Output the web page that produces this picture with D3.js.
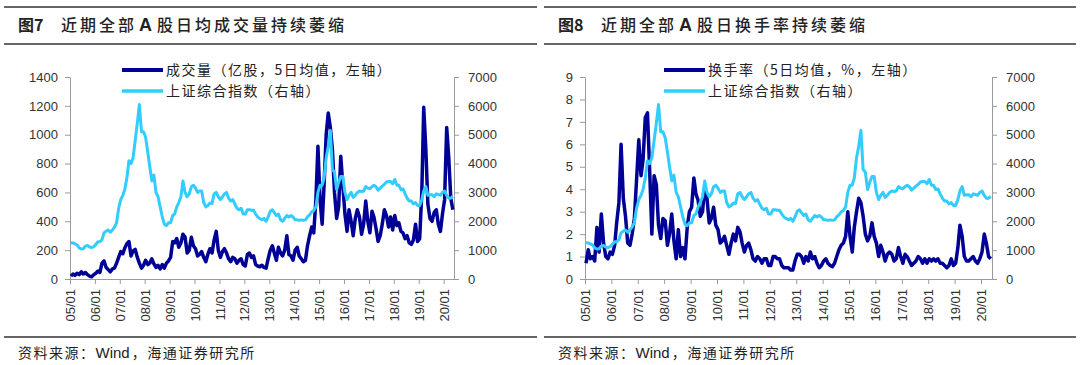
<!DOCTYPE html>
<html>
<head>
<meta charset="utf-8">
<script src="https://cdn.jsdelivr.net/npm/d3@7"></script>
<style>
  body { margin: 0; background: #fff; }
  svg text { font-family: "Liberation Sans", Arial, "Noto Sans CJK SC", sans-serif; }
  .cjk { font-family: "Noto Sans CJK SC", sans-serif; }
</style>
</head>
<body>
<svg id="chart" width="1080" height="365"></svg>
<script>
// monthly values, Jan 2005 .. May 2020
const firstYear = 2005;
const tickYears = d3.range(2005, 2021);

// 成交量（亿股，5日均值）
const volume = [
  20, 35, 25, 40, 30, 50, 35, 45, 30, 20, 15, 30,
  40, 55, 45, 110, 125, 80, 65, 50, 70, 75, 110, 150,
  190, 175, 215, 245, 260, 160, 195, 205, 150, 110, 75, 95,
  130, 100, 110, 140, 105, 80, 95, 70, 100, 75, 110, 125,
  150, 260, 250, 280, 220, 250, 310, 290, 180, 200, 290, 230,
  210, 160, 170, 190, 150, 120, 170, 210, 180, 270, 330, 200,
  150, 190, 210, 180, 140, 120, 150, 140, 110, 130, 140, 100,
  90, 170, 180, 150, 160, 100, 90, 85, 95, 80, 75, 140,
  200, 230, 180, 130, 220, 180, 160, 200, 300, 170, 160, 130,
  200, 220, 160, 140, 120, 130, 230, 300, 360, 320, 550, 920,
  550, 380, 650, 1000, 1150, 1050, 900, 600, 420, 500, 850, 650,
  450, 330, 480, 400, 300, 420, 480, 430, 310, 380, 540, 400,
  320, 470, 430, 350, 260, 300, 380, 480, 440, 360, 430, 340,
  440, 370, 390, 330, 320, 280, 300, 250, 240, 270, 380, 260,
  280, 600, 1190, 900, 520, 420, 400, 460, 480, 380, 330, 450,
  550, 1050, 850, 560, 480
];

// 换手率（5日均值，%）
const turnover = [
  0.7, 1.3, 0.9, 1.0, 0.8, 2.3, 1.2, 2.9, 1.6, 1.0, 0.9, 1.2,
  1.1, 1.5, 2.5, 3.4, 6.0, 3.6, 2.8, 1.6, 1.5, 2.0, 2.7, 4.4,
  6.2, 4.6, 5.3, 7.2, 7.4, 4.8, 2.0, 4.6, 4.2, 2.4, 1.8, 2.7,
  2.6, 1.5, 2.0, 2.9, 1.7, 0.9, 2.2, 1.0, 1.4, 0.9, 2.3, 3.0,
  3.2, 4.5, 3.8, 3.5, 2.8, 3.0, 4.1, 3.6, 2.5, 2.7, 3.2, 2.4,
  2.2, 1.6, 1.7, 1.9, 1.5, 1.1, 1.6, 2.0, 1.7, 2.3, 2.1, 1.6,
  1.2, 1.5, 1.6, 1.3, 0.9, 0.8, 1.0, 0.9, 0.7, 0.9, 0.9, 0.6,
  0.6, 1.0, 1.0, 0.9, 0.9, 0.6, 0.5, 0.5, 0.5, 0.4, 0.4, 0.8,
  1.1, 1.1, 1.0, 0.7, 1.0, 0.8, 1.2, 0.9, 1.0, 0.7, 0.5, 0.6,
  0.8, 0.9, 0.7, 0.6, 0.55, 0.7, 1.0, 1.3, 1.5, 1.6, 1.9, 3.0,
  1.9, 1.2, 2.3, 3.0, 3.6, 3.4, 2.8, 2.0, 1.7, 1.9, 2.5, 1.9,
  1.6, 1.0, 1.5, 1.2, 0.8, 1.1, 1.2, 1.1, 0.8, 0.9, 1.4, 1.0,
  0.7, 1.1, 1.0, 0.8, 0.6, 0.7, 0.8, 1.0, 0.9, 0.7, 0.9, 0.7,
  0.9, 0.8, 0.9, 0.8, 0.9, 0.7, 0.7, 0.6, 0.5, 0.6, 0.9, 0.6,
  0.7, 1.4, 2.4, 1.9, 1.0, 0.8, 0.8, 0.9, 1.0, 0.8, 0.7, 0.9,
  1.2, 2.0, 1.6, 1.0, 0.9
];

// 上证综合指数
const sseIndex = [
  1260, 1250, 1220, 1180, 1080, 1040, 1050, 1140, 1160, 1110, 1090, 1120,
  1200, 1290, 1290, 1360, 1600, 1660, 1700, 1620, 1700, 1800, 1950, 2450,
  2750, 2900, 3100, 3500, 4100, 4000, 4200, 4800, 5400, 6050, 5100, 5100,
  4900, 4400, 3900, 3400, 3600, 3000, 2850, 2500, 2150, 1900, 1850, 1950,
  1950, 2200, 2250, 2500, 2650, 2850, 3400, 3000, 2850, 2950, 3200, 3250,
  3150, 3000, 3050, 3050, 2650, 2500, 2550, 2630, 2620, 2950, 3000, 2850,
  2750, 2850, 2950, 3000, 2800, 2700, 2750, 2600, 2450, 2400, 2450, 2250,
  2250, 2400, 2400, 2380, 2380, 2250, 2150, 2100, 2050, 2100, 2000, 2150,
  2350, 2400, 2300, 2200, 2250, 2050, 2000, 2100, 2200, 2150, 2200, 2150,
  2050, 2050, 2030, 2050, 2030, 2050, 2150, 2220, 2330, 2370, 2500, 3000,
  3250, 3250, 3500, 4200, 4600, 5150, 3800, 3700, 3100, 3350, 3550, 3550,
  3000, 2750, 2900, 3000, 2830, 2900, 3000, 3050, 3030, 3050, 3200, 3150,
  3130, 3200, 3250, 3200, 3080, 3150, 3220, 3280, 3360, 3380, 3380, 3300,
  3450, 3250, 3250, 3100, 3120, 2950, 2800, 2700, 2700, 2600, 2650, 2550,
  2550, 2750, 3050, 3200, 2900, 2920, 2920, 2850, 2950, 2930, 2900, 3000,
  3050, 2900, 2800, 2800, 2860
];

const navy = "#000096";
const sky = "#33ccff";
const axisColor = "#9a9a9a";

const svg = d3.select("#chart");
const months = volume.map((_, i) => new Date(firstYear, i, 15));

function drawPanel(cfg) {
  const g = svg.append("g");
  const top = 77, bottom = 279;

  // header / footer rules
  [7, 44, 337].forEach(y => {
    g.append("line")
      .attr("x1", cfg.ruleX0).attr("x2", cfg.ruleX1)
      .attr("y1", y).attr("y2", y)
      .attr("stroke", "#333").attr("stroke-width", 1.6);
  });

  g.append("text").attr("class", "cjk")
    .attr("x", cfg.ruleX0 + 14).attr("y", 31)
    .attr("font-size", 16).attr("font-weight", "bold").attr("fill", "#222")
    .text(cfg.figNo);
  const title = g.append("text").attr("class", "cjk")
    .attr("x", cfg.ruleX0 + 57).attr("y", 31)
    .attr("font-size", 16).attr("font-weight", 500).attr("fill", "#222")
    .attr("letter-spacing", 3);
  title.append("tspan").text(cfg.title[0]);
  title.append("tspan").attr("font-family", "Liberation Sans, Arial, sans-serif")
    .attr("font-weight", "bold").attr("font-size", 18).attr("dx", 2).text("A");
  title.append("tspan").attr("dx", 2).text(cfg.title[1]);

  const foot = g.append("text").attr("class", "cjk")
    .attr("x", cfg.ruleX0 + 14).attr("y", 358)
    .attr("font-size", 14).attr("fill", "#222")
    .attr("letter-spacing", 1.5);
  foot.append("tspan").text("资料来源：");
  foot.append("tspan").attr("font-family", "Liberation Sans, Arial, sans-serif")
    .attr("letter-spacing", 0).attr("font-size", 15).text("Wind");
  foot.append("tspan").attr("dx", 2).text("，海通证券研究所");

  const x = d3.scaleTime()
    .domain([new Date(2005, 0, 1), new Date(2020, 5, 1)])
    .range([cfg.x0, cfg.x1]);
  const yL = d3.scaleLinear().domain([0, cfg.leftMax]).range([bottom, top]);
  const yR = d3.scaleLinear().domain([0, 7000]).range([bottom, top]);

  const axL = g.append("g").attr("transform", `translate(${cfg.x0},0)`)
    .call(d3.axisLeft(yL).tickValues(d3.range(0, cfg.leftMax + cfg.leftStep / 2, cfg.leftStep))
      .tickFormat(d3.format("d")).tickSize(5).tickSizeOuter(0).tickPadding(7));
  const axR = g.append("g").attr("transform", `translate(${cfg.x1},0)`)
    .call(d3.axisRight(yR).tickValues(d3.range(0, 7001, 1000))
      .tickFormat(d3.format("d")).tickSize(5).tickSizeOuter(0).tickPadding(9));
  const axB = g.append("g").attr("transform", `translate(0,${bottom})`)
    .call(d3.axisBottom(x).tickValues(tickYears.map(y => new Date(y, 0, 1)))
      .tickFormat(d3.timeFormat("%y/%m")).tickSize(5).tickSizeOuter(0));

  [axL, axR, axB].forEach(a => {
    a.select(".domain").attr("stroke", axisColor);
    a.selectAll(".tick line").attr("stroke", axisColor);
    a.selectAll("text").attr("font-size", 13).attr("fill", "#333");
  });
  axB.selectAll("text")
    .attr("transform", "rotate(-90)")
    .attr("text-anchor", "end")
    .attr("x", -10).attr("y", 0).attr("dy", "0.35em");

  const mainLine = d3.line().x((d, i) => x(months[i])).y(d => yL(d));
  const idxLine = d3.line().x((d, i) => x(months[i])).y(d => yR(d));

  g.append("path").datum(cfg.series)
    .attr("d", mainLine).attr("fill", "none")
    .attr("stroke", navy).attr("stroke-width", 3.5).attr("stroke-linejoin", "round");
  g.append("path").datum(sseIndex)
    .attr("d", idxLine).attr("fill", "none")
    .attr("stroke", sky).attr("stroke-width", 3).attr("stroke-linejoin", "round");

  // legend
  const legend = [
    { label: cfg.legendMain, color: navy, w: 4, y: 70 },
    { label: "上证综合指数（右轴）", color: sky, w: 3.4, y: 91 }
  ];
  const lg = g.selectAll(".lg").data(legend).join("g").attr("class", "lg");
  lg.append("line")
    .attr("x1", cfg.legendX).attr("x2", cfg.legendX + 41)
    .attr("y1", d => d.y).attr("y2", d => d.y)
    .attr("stroke", d => d.color).attr("stroke-width", d => d.w);
  lg.append("text").attr("class", "cjk")
    .attr("x", cfg.legendX + 44).attr("y", d => d.y + 5)
    .attr("font-size", 14).attr("fill", "#222").attr("letter-spacing", 1.5)
    .text(d => d.label);
}

drawPanel({
  ruleX0: 4, ruleX1: 537,
  figNo: "图7", title: ["近期全部", "股日均成交量持续萎缩"],
  x0: 70, x1: 454, leftMax: 1400, leftStep: 200,
  series: volume, legendX: 122,
  legendMain: "成交量（亿股，5日均值，左轴）"
});

drawPanel({
  ruleX0: 544, ruleX1: 1076,
  figNo: "图8", title: ["近期全部", "股日换手率持续萎缩"],
  x0: 585, x1: 992, leftMax: 9, leftStep: 1,
  series: turnover, legendX: 664,
  legendMain: "换手率（5日均值，%，左轴）"
});
</script>
</body>
</html>
